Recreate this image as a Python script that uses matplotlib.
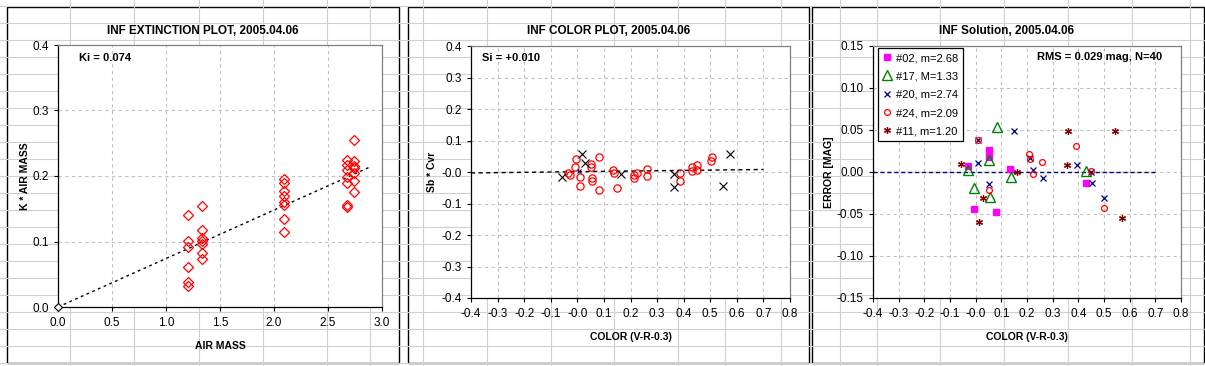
import numpy as np
import matplotlib
matplotlib.use("Agg")
import matplotlib.pyplot as plt
from matplotlib.patches import Rectangle

plt.rcParams['font.family'] = ['Liberation Sans', 'DejaVu Sans']

# ---- extinction plot data (air mass columns, K * air mass) ----
am_cols = [1.20, 1.33, 2.09, 2.68, 2.74]
k_120 = [0.140, 0.101, 0.091, 0.061, 0.038, 0.032]
k_133 = [0.154, 0.117, 0.105, 0.101, 0.096, 0.082, 0.073]
k_209 = [0.195, 0.189, 0.177, 0.169, 0.160, 0.156, 0.134, 0.115]
k_268 = [0.224, 0.217, 0.209, 0.199, 0.189, 0.156, 0.152]
k_274 = [0.255, 0.223, 0.216, 0.212, 0.205, 0.192, 0.175]
Ki = 0.074
ext_fit_x = [0.0, 2.9]

# ---- color plot data ----
circ_x = [-0.006, -0.010, -0.029, -0.034, 0.009, 0.009, 0.050, 0.053, 0.054,
          0.054, 0.081, 0.081, 0.135, 0.138, 0.150, 0.212, 0.215, 0.225,
          0.263, 0.263, 0.388, 0.388, 0.431, 0.431, 0.450, 0.452, 0.505, 0.504]
circ_y = [0.040, 0.016, -0.008, -0.004, -0.016, -0.043, 0.025, 0.016, -0.018,
          -0.027, 0.048, -0.056, 0.005, -0.002, -0.051, -0.018, -0.011, -0.002,
          0.008, -0.014, -0.004, -0.030, 0.015, 0.002, 0.021, 0.007, 0.048, 0.036]
cross_x = [0.016, 0.029, -0.056, 0.165, 0.363, 0.363, 0.573, 0.548]
cross_y = [0.056, 0.030, -0.016, -0.005, -0.006, -0.048, 0.057, -0.044]
Si = 0.010
col_fit_x = [-0.4, 0.7]

# ---- solution residuals ----
s02_x = [-0.030, 0.051, 0.051, 0.135, -0.008, 0.081, 0.430]
s02_y = [0.007, 0.026, 0.018, 0.003, -0.044, -0.048, -0.013]
s17_x = [0.084, -0.030, 0.052, -0.008, 0.057, 0.136, 0.430]
s17_y = [0.053, 0.002, 0.014, -0.019, -0.030, -0.006, 0.001]
s20_x = [0.148, 0.009, 0.009, 0.052, 0.212, 0.223, 0.262, 0.393, 0.449, 0.452, 0.501]
s20_y = [0.049, 0.038, 0.011, -0.014, 0.017, 0.002, -0.007, 0.008, 0.000, -0.0135, -0.031]
s24_x = [0.009, 0.206, 0.210, 0.260, 0.223, 0.051, 0.390, 0.449, 0.500]
s24_y = [0.038, 0.021, 0.016, 0.0115, -0.002, -0.022, 0.031, 0.001, -0.0425]
s11_x = [-0.056, 0.162, 0.029, 0.013, 0.361, 0.543, 0.356, 0.571]
s11_y = [0.010, 0.000, -0.031, -0.059, 0.049, 0.049, 0.008, -0.055]

W, H = 1205, 366
fig = plt.figure(figsize=(W / 100, H / 100), dpi=100)


def pos(l, t, r, b):
    return [l / W, 1 - b / H, (r - l) / W, (b - t) / H]


# spreadsheet background with cell lines and chart boxes
bg = fig.add_axes([0, 0, 1, 1], zorder=-10)
bg.set_xlim(0, W)
bg.set_ylim(H, 0)
bg.axis('off')
cols = [70, 134, 199, 263, 327, 370, 423, 487, 551, 614, 678, 725, 781,
        840, 877, 940, 1004, 1068, 1132, 1190]
for c in cols:
    bg.axvline(c, color='#d0d0d0', lw=0.8)
for r in range(6, H, 17):
    bg.axhline(r, color='#d0d0d0', lw=0.8)
for (l, t, r, b) in [(7, 7, 399, 363), (408, 7, 809, 363), (812, 7, 1204, 363)]:
    bg.add_patch(Rectangle((l, t), r - l, b - t, facecolor='white',
                           edgecolor='black', lw=1.0))

grid_kw = dict(color='#c0c0c0', linestyle=(0, (3, 3)), linewidth=0.8)


def style(ax):
    ax.grid(True, **grid_kw)
    ax.set_axisbelow(True)
    for s in ['top', 'right']:
        ax.spines[s].set_color('#808080')
    for s in ['left', 'bottom']:
        ax.spines[s].set_color('black')
    for s in ax.spines.values():
        s.set_linewidth(0.9)
    ax.tick_params(direction='out', length=3, width=0.8, labelsize=8.5)
    ax.tick_params(axis='x', pad=4.5)
    ax.tick_params(axis='y', pad=3.5)


tfont = dict(fontsize=8.5, fontweight='bold')
lfont = dict(fontsize=7.5, fontweight='bold')

# ---------- panel 1 ----------
ax1 = fig.add_axes(pos(58, 45, 382, 307))
style(ax1)
xs, ys = [0.0], [0.0]
for a, ks in zip(am_cols, [k_120, k_133, k_209, k_268, k_274]):
    xs += [a] * len(ks)
    ys += ks
ax1.plot(xs[1:], ys[1:], linestyle='none', marker='D', ms=5.6, mfc='none',
         mec='red', mew=0.9, zorder=3)
ax1.plot([0], [0], linestyle='none', marker='D', ms=4, mfc='white',
         mec='black', mew=0.8, zorder=4, clip_on=False)
ax1.plot(ext_fit_x, [Ki * x for x in ext_fit_x], color='black',
         linestyle=(0, (2, 2.5)), lw=1.0, zorder=2)
ax1.set_xlim(0, 3)
ax1.set_ylim(0, 0.4)
ax1.set_xticks(np.arange(0, 3.01, 0.5))
ax1.set_yticks(np.arange(0, 0.401, 0.1))
ax1.xaxis.set_major_formatter(matplotlib.ticker.FormatStrFormatter('%.1f'))
ax1.yaxis.set_major_formatter(matplotlib.ticker.FormatStrFormatter('%.1f'))
ax1.set_title('INF EXTINCTION PLOT, 2005.04.06', x=0.4475, pad=8, **tfont)
ax1.set_xlabel('AIR MASS', labelpad=8, **lfont)
ax1.set_ylabel("K * AIR MASS", labelpad=2, **lfont)
ax1.text(0.19, 0.38, 'Ki = %.3f' % Ki, fontsize=8, fontweight='bold', va='center')

# ---------- panel 2 ----------
ax2 = fig.add_axes(pos(471, 46, 790, 298))
style(ax2)
ax2.plot(circ_x, circ_y, linestyle='none', marker='o', ms=5.2, mfc='none',
         mec='red', mew=0.9, zorder=3)
ax2.plot(cross_x, cross_y, linestyle='none', marker='x', ms=5.5,
         color='black', mew=0.8, zorder=4)
ax2.plot([0.005], [0.002], linestyle='none', marker='x', ms=3, color='#000080',
         mew=0.8, zorder=5)
ax2.plot(col_fit_x, [Si * x + 0.001 for x in col_fit_x], color='black',
         linestyle=(0, (3, 2.5)), lw=1.0, zorder=2)
ax2.set_xlim(-0.4, 0.8)
ax2.set_ylim(-0.4, 0.4)
ax2.set_xticks(np.arange(-0.4, 0.801, 0.1))
ax2.set_yticks(np.arange(-0.4, 0.401, 0.1))
ax2.xaxis.set_major_formatter(matplotlib.ticker.FormatStrFormatter('%.1f'))
ax2.yaxis.set_major_formatter(matplotlib.ticker.FormatStrFormatter('%.1f'))
ax2.set_title('INF COLOR PLOT, 2005.04.06', x=0.43, pad=8.5, **tfont)
ax2.set_xlabel('COLOR (V-R-0.3)', labelpad=8, **lfont)
ax2.set_ylabel('Sb * Cvr', labelpad=3, **lfont)
ax2.text(-0.36, 0.362, 'Si = %+.3f' % Si, fontsize=8, fontweight='bold', va='center')

# ---------- panel 3 ----------
ax3 = fig.add_axes(pos(873, 46, 1181, 298))
style(ax3)
ax3.axhline(0, xmin=0, xmax=1.1 / 1.2, color='#000080', linestyle=(0, (3, 2)),
            lw=1.0, zorder=2)
ax3.plot(s02_x, s02_y, linestyle='none', marker='s', ms=5, color='#ff00ff',
         mec='#ff00ff', label='#02, m=2.68', zorder=3)
ax3.plot(s17_x, s17_y, linestyle='none', marker='^', ms=7, mfc='none',
         mec='#008000', mew=1.0, label='#17, M=1.33', zorder=3)
ax3.plot(s20_x, s20_y, linestyle='none', marker='x', ms=4, color='#000080',
         mew=0.9, label='#20, m=2.74', zorder=4)
ax3.plot(s24_x, s24_y, linestyle='none', marker='o', ms=4.2, mfc='none',
         mec='red', mew=0.9, label='#24, m=2.09', zorder=4)
ax3.plot(s11_x, s11_y, linestyle='none', marker=(6, 2, 0), ms=5,
         color='#800000', mew=0.9, label='#11, m=1.20', zorder=4)
ax3.set_xlim(-0.4, 0.8)
ax3.set_ylim(-0.15, 0.15)
ax3.set_xticks(np.arange(-0.4, 0.801, 0.1))
ax3.set_yticks(np.arange(-0.15, 0.1501, 0.05))
ax3.xaxis.set_major_formatter(matplotlib.ticker.FormatStrFormatter('%.1f'))
ax3.yaxis.set_major_formatter(matplotlib.ticker.FormatStrFormatter('%.2f'))
ax3.set_title('INF Solution, 2005.04.06', x=0.432, pad=8.5, **tfont)
ax3.set_xlabel('COLOR (V-R-0.3)', labelpad=8, **lfont)
ax3.set_ylabel('ERROR [MAG]', labelpad=2, **lfont)
ax3.text(0.725, 0.137, 'RMS = 0.029 mag, N=40', fontsize=8, fontweight='bold',
         va='center', ha='right')
leg = ax3.legend(loc='upper left', bbox_to_anchor=(0.016, 0.992), borderaxespad=0,
                 fontsize=8, frameon=True, fancybox=False, edgecolor='black',
                 framealpha=1, handlelength=0.8, handletextpad=0.35,
                 labelspacing=0.75, borderpad=0.45, numpoints=1)
leg.get_frame().set_linewidth(0.9)

fig.savefig('out.png', dpi=100)
